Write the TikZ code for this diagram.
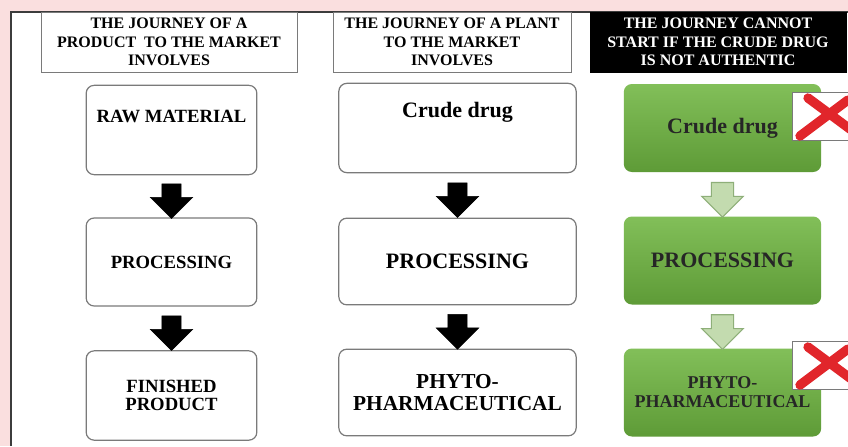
\documentclass[tikz,border=0pt]{standalone}
\usepackage{fontspec}
\setmainfont{Liberation Serif}
\usepackage{xcolor}
\usepackage{tikz}
\usetikzlibrary{shapes.arrows,calc,positioning}
\definecolor{pinkbg}{HTML}{FADFDF}
\definecolor{frame}{HTML}{3C3C3C}
\definecolor{boxline}{HTML}{7A7A7A}
\definecolor{gtop}{HTML}{82BF59}
\definecolor{gbot}{HTML}{5E9B37}
\definecolor{garrow}{HTML}{C3DBAF}
\definecolor{garrowline}{HTML}{8EAF79}
\definecolor{xred}{HTML}{E1262B}
\tikzset{
  head/.style    ={draw=boxline,line width=0.7pt,fill=white,align=center,
                   minimum width=192pt,minimum height=45pt,
                   font=\bfseries\fontsize{12}{14}\selectfont},
  darkhead/.style={head,draw=black,fill=black,text=white},
  plain/.style   ={rounded corners=6pt,draw=boxline,line width=0.9pt,fill=white,
                   align=center,font=\bfseries},
  green/.style   ={rounded corners=6pt,draw=none,top color=gtop,bottom color=gbot,
                   align=center,text=black!85,font=\bfseries,
                   minimum width=148pt,minimum height=66pt},
  blk/.style     ={single arrow,rotate=-90,fill=black,draw=black,
                   minimum height=26pt,inner xsep=0pt,inner ysep=7pt,
                   single arrow head extend=8.7pt},
  lgt/.style     ={blk,fill=garrow,draw=garrowline,line width=0.8pt,
                   inner ysep=8pt,single arrow head extend=7.2pt},
  nope/.style    ={draw=boxline,line width=0.6pt,fill=white,
                   minimum width=45pt,minimum height=36pt},
  stroke/.style  ={draw=xred,line width=7pt,line cap=round}
}
\begin{document}
\begin{tikzpicture}[x=0.75pt,y=-0.75pt]
  \fill[pinkbg] (0,0) rectangle (848,446);
  \useasboundingbox (0,0) rectangle (848,446);
  \fill[white] (11,12) rectangle (848,446);
  \draw[frame,line width=0.9pt] (11,446) -- (11,12) -- (848,12);
  % --- headers ---
  \node[head] (h1) at (169,42)
    {THE JOURNEY OF A\\PRODUCT\ \ TO THE MARKET\\INVOLVES};
  \node[head,minimum width=178.5pt] (h2) at (452,42)
    {THE JOURNEY OF A PLANT\\TO THE MARKET\\INVOLVES};
  \node[darkhead] (h3) at (718,42)
    {THE JOURNEY CANNOT\\START IF THE CRUDE DRUG\\IS NOT AUTHENTIC};
  % --- left column ---
  \node[plain,minimum width=128pt,minimum height=67pt] (raw) at (171.5,130) {};
  \node[font=\bfseries\fontsize{14}{13.5}\selectfont] (rawt)
    at ([yshift=-24pt]raw.north) {RAW MATERIAL};
  \node[plain,minimum width=128pt,minimum height=66pt,
        font=\bfseries\fontsize{14}{13.5}\selectfont] (proc1) at (171.5,262) {PROCESSING};
  \node[plain,minimum width=128pt,minimum height=67pt,
        font=\bfseries\fontsize{14}{13.5}\selectfont] (fin) at (171.5,395.5)
    {FINISHED\\PRODUCT};
  % --- middle column ---
  \node[plain,minimum width=178pt,minimum height=67pt] (crude) at (457.5,128) {};
  \node[font=\bfseries\fontsize{16.5}{16.5}\selectfont] (crudet)
    at ([yshift=-22.5pt]crude.north) {Crude drug};
  \node[plain,minimum width=178pt,minimum height=65pt,
        font=\bfseries\fontsize{16.5}{16.5}\selectfont] (proc2) at (457.5,261.5) {PROCESSING};
  \node[plain,minimum width=178pt,minimum height=65pt,
        font=\bfseries\fontsize{16}{16.5}\selectfont] (phy) at (457.5,392.5)
    {PHYTO-\\PHARMACEUTICAL};
  % --- right column ---
  \node[green,font=\bfseries\fontsize{16.5}{16.5}\selectfont] (gcrude) at (722.5,128) {Crude drug};
  \node[green,font=\bfseries\fontsize{16.5}{16.5}\selectfont] (gproc) at (722.5,260.5) {PROCESSING};
  \node[green,font=\bfseries\fontsize{13.5}{14.2}\selectfont] (gphy) at (722.5,392.5)
    {PHYTO-\\PHARMACEUTICAL};
  % --- block arrows ---
  \node[blk] (a1) at ($(raw.south)!0.5!(proc1.north)$) {};
  \node[blk] (a2) at ($(proc1.south)!0.5!(fin.north)$) {};
  \node[blk] (a3) at ($(crude.south)!0.5!(proc2.north)$) {};
  \node[blk] (a4) at ($(proc2.south)!0.5!(phy.north)$) {};
  \node[lgt] (a5) at ($(gcrude.south)!0.5!(gproc.north)$) {};
  \node[lgt] (a6) at ($(gproc.south)!0.5!(gphy.north)$) {};
  % --- not authentic marks ---
  \begin{scope}
    \clip (0,0) rectangle (848,446);
    \node[nope,anchor=north west] (x1) at (792,92) {};
    \node[nope,anchor=north west] (x2) at (792,341) {};
    \draw[stroke] ([shift={(16,6)}]x1.north west) -- ([shift={(62,40)}]x1.north west);
    \draw[stroke] ([shift={(56,8)}]x1.north west) -- ([shift={(8,44)}]x1.north west);
    \draw[stroke] ([shift={(16,6)}]x2.north west) -- ([shift={(62,40)}]x2.north west);
    \draw[stroke] ([shift={(56,8)}]x2.north west) -- ([shift={(8,44)}]x2.north west);
  \end{scope}
\end{tikzpicture}
\end{document}
